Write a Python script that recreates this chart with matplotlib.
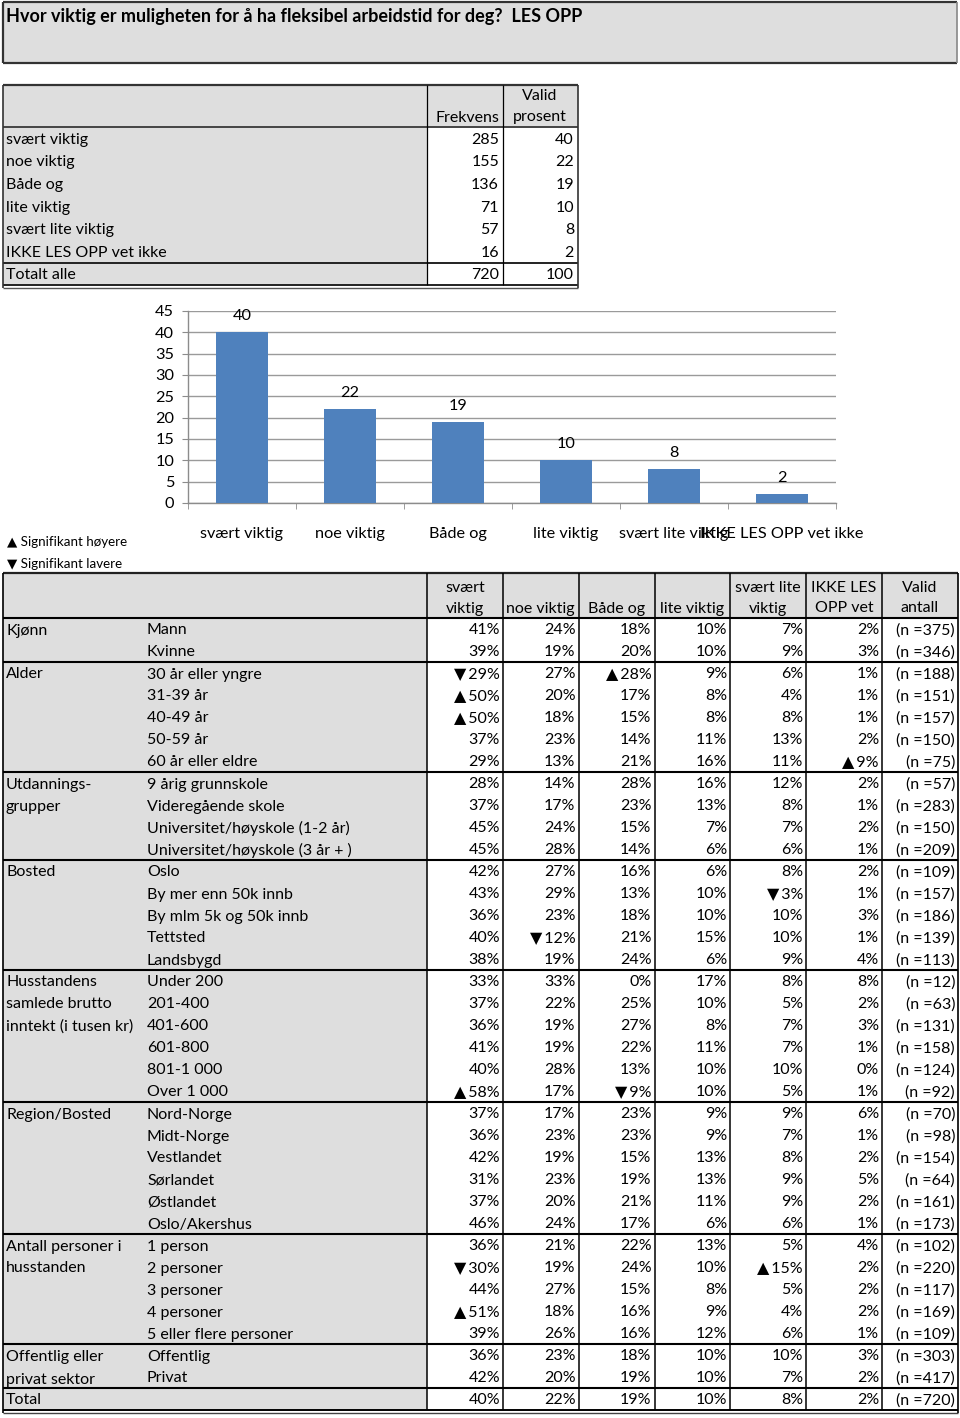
import matplotlib
matplotlib.use("Agg")
import matplotlib.pyplot as plt
from matplotlib.patches import Rectangle

plt.rcParams['font.family'] = ['Lato', 'DejaVu Sans']

# ---------------- data ----------------
title = "Hvor viktig er muligheten for å ha fleksibel arbeidstid for deg?  LES OPP"

freq_labels = ["svært viktig", "noe viktig", "Både og", "lite viktig",
               "svært lite viktig", "IKKE LES OPP vet ikke"]
freq_counts = [285, 155, 136, 71, 57, 16]
freq_pct = [40, 22, 19, 10, 8, 2]
freq_total_label = "Totalt alle"
freq_total = [720, 100]

bar_categories = freq_labels
bar_values = freq_pct
y_ticks = [0, 5, 10, 15, 20, 25, 30, 35, 40, 45]

col_headers = ["svært\nviktig", "noe viktig", "Både og", "lite viktig",
               "svært lite\nviktig", "IKKE LES\nOPP vet", "Valid\nantall"]

group_labels = [
    ["Kjønn"],
    ["Alder"],
    ["Utdannings-", "grupper"],
    ["Bosted"],
    ["Husstandens", "samlede brutto", "inntekt (i tusen kr)"],
    ["Region/Bosted"],
    ["Antall personer i", "husstanden"],
    ["Offentlig eller", "privat sektor"],
    ["Total"],
]
group_rows = [
    ["Mann", "Kvinne"],
    ["30 år eller yngre", "31-39 år", "40-49 år", "50-59 år", "60 år eller eldre"],
    ["9 årig grunnskole", "Videregående skole", "Universitet/høyskole (1-2 år)",
     "Universitet/høyskole (3 år + )"],
    ["Oslo", "By mer enn 50k innb", "By mlm 5k og 50k innb", "Tettsted", "Landsbygd"],
    ["Under 200", "201-400", "401-600", "601-800", "801-1 000", "Over 1 000"],
    ["Nord-Norge", "Midt-Norge", "Vestlandet", "Sørlandet", "Østlandet", "Oslo/Akershus"],
    ["1 person", "2 personer", "3 personer", "4 personer", "5 eller flere personer"],
    ["Offentlig", "Privat"],
    [""],
]
pct_values = [
    [41, 24, 18, 10, 7, 2], [39, 19, 20, 10, 9, 3],
    [29, 27, 28, 9, 6, 1], [50, 20, 17, 8, 4, 1], [50, 18, 15, 8, 8, 1],
    [37, 23, 14, 11, 13, 2], [29, 13, 21, 16, 11, 9],
    [28, 14, 28, 16, 12, 2], [37, 17, 23, 13, 8, 1], [45, 24, 15, 7, 7, 2],
    [45, 28, 14, 6, 6, 1],
    [42, 27, 16, 6, 8, 2], [43, 29, 13, 10, 3, 1], [36, 23, 18, 10, 10, 3],
    [40, 12, 21, 15, 10, 1], [38, 19, 24, 6, 9, 4],
    [33, 33, 0, 17, 8, 8], [37, 22, 25, 10, 5, 2], [36, 19, 27, 8, 7, 3],
    [41, 19, 22, 11, 7, 1], [40, 28, 13, 10, 10, 0], [58, 17, 9, 10, 5, 1],
    [37, 17, 23, 9, 9, 6], [36, 23, 23, 9, 7, 1], [42, 19, 15, 13, 8, 2],
    [31, 23, 19, 13, 9, 5], [37, 20, 21, 11, 9, 2], [46, 24, 17, 6, 6, 1],
    [36, 21, 22, 13, 5, 4], [30, 19, 24, 10, 15, 2], [44, 27, 15, 8, 5, 2],
    [51, 18, 16, 9, 4, 2], [39, 26, 16, 12, 6, 1],
    [36, 23, 18, 10, 10, 3], [42, 20, 19, 10, 7, 2],
    [40, 22, 19, 10, 8, 2],
]
n_values = [375, 346, 188, 151, 157, 150, 75, 57, 283, 150, 209, 109, 157, 186,
            139, 113, 12, 63, 131, 158, 124, 92, 70, 98, 154, 64, 161, 173, 102,
            220, 117, 169, 109, 303, 417, 720]
# significance markers: (row index, column index) -> symbol
sig_marks = {
    (2, 0): "▼", (2, 2): "▲", (3, 0): "▲", (4, 0): "▲", (6, 5): "▲",
    (12, 4): "▼", (14, 1): "▼", (21, 0): "▲", (21, 2): "▼",
    (29, 0): "▼", (29, 4): "▲", (31, 0): "▲",
}
legend_up = "▲ Signifikant høyere"
legend_down = "▼ Signifikant lavere"

# ---------------- layout ----------------
W, H = 960, 1418
GRAY = "#dedede"
FS = 11.5
DY = 1.5

fig = plt.figure(figsize=(W / 100, H / 100), dpi=100)
ax = fig.add_axes([0, 0, 1, 1])
ax.set_xlim(0, W)
ax.set_ylim(H, 0)
ax.axis("off")


def rect(x0, y0, x1, y1, fc, ec="none", lw=0):
    ax.add_patch(Rectangle((x0, y0), x1 - x0, y1 - y0, facecolor=fc,
                           edgecolor=ec, linewidth=lw, zorder=1))


def hline(y, x0, x1, lw=0.8, color="black"):
    ax.plot([x0, x1], [y, y], color=color, lw=lw, solid_capstyle="butt", zorder=3)


def vline(x, y0, y1, lw=0.8, color="black"):
    ax.plot([x, x], [y0, y1], color=color, lw=lw, solid_capstyle="butt", zorder=3)


def txt(x, y, s, ha="left", **kw):
    ax.text(x, y + DY, s, ha=ha, va="center", fontsize=kw.pop("fontsize", FS),
            color="black", zorder=4, **kw)


# title box
rect(3, 2, 957, 63, GRAY)
hline(2, 3, 957, lw=1.6, color="#333333")
hline(63, 3, 957, lw=1.6, color="#333333")
vline(3, 2, 63, lw=1.6, color="#333333")
vline(957, 2, 63, lw=1.2, color="#888888")
txt(6, 15, title, fontweight="bold", fontsize=13)

# frequency table
fy_top, fy_head = 85, 127
frow_h = 22.6
rect(3, fy_top, 578, fy_head, GRAY)
n_f = len(freq_labels)
y_total_top = fy_head + n_f * frow_h
y_total_bot = y_total_top + 22
rect(3, fy_head, 427, y_total_bot, GRAY)
rect(427, fy_head, 578, y_total_bot, "white")
txt(499, 116, "Frekvens", ha="right")
txt(540, 95, "Valid", ha="center")
txt(540, 116, "prosent", ha="center")
for i, (lab, c, p) in enumerate(zip(freq_labels, freq_counts, freq_pct)):
    yc = fy_head + frow_h * (i + 0.5)
    txt(6, yc, lab)
    txt(499, yc, str(c), ha="right")
    txt(574, yc, str(p), ha="right")
yc = (y_total_top + y_total_bot) / 2
txt(6, yc, freq_total_label)
txt(499, yc, str(freq_total[0]), ha="right")
txt(574, yc, str(freq_total[1]), ha="right")
hline(fy_top, 3, 578, lw=1.6, color="#333333")
hline(fy_head, 3, 578, lw=1.4, color="#444444")
hline(y_total_top, 3, 578, lw=1.4, color="#222222")
hline(y_total_bot, 3, 578, lw=1.4, color="#222222")
hline(y_total_bot + 3, 3, 578, lw=1.0, color="#555555")
vline(3, fy_top, y_total_bot + 3, lw=1.2, color="#333333")
vline(578, fy_top, y_total_bot + 3, lw=1.2, color="#333333")
vline(427, fy_top, y_total_bot, lw=0.9)
vline(503, fy_top, y_total_bot, lw=0.9)

# bar chart
px0, px1, py0, py1 = 188, 836, 311, 503
bax = fig.add_axes([px0 / W, 1 - py1 / H, (px1 - px0) / W, (py1 - py0) / H])
xs = list(range(len(bar_categories)))
bax.bar(xs, bar_values, width=0.49, color="#4f81bd", zorder=3)
bax.set_xlim(-0.5, len(bar_categories) - 0.5)
bax.set_ylim(0, 45)
bax.set_yticks(y_ticks)
bax.yaxis.grid(True, color="#9a9a9a", lw=1.0, zorder=0)
bax.set_axisbelow(True)
for s in ["top", "right"]:
    bax.spines[s].set_visible(False)
for s in ["left", "bottom"]:
    bax.spines[s].set_color("#8c8c8c")
    bax.spines[s].set_linewidth(1.0)
bax.set_xticks(xs)
bax.set_xticklabels(bar_categories, fontsize=FS + 0.2)
bax.set_xticks([x + 0.5 for x in [-1] + xs], minor=True)
bax.tick_params(axis="x", which="major", length=0, pad=17)
bax.tick_params(axis="x", which="minor", length=4, color="#8c8c8c", direction="out")
bax.tick_params(axis="y", length=4, color="#8c8c8c", pad=6, labelsize=FS + 0.2)
for x, v in zip(xs, bar_values):
    bax.annotate(str(v), (x, v), xytext=(0, 16), textcoords="offset pixels",
                 ha="center", va="center", fontsize=FS + 0.2, zorder=4)

# legend
txt(7, 540, legend_up, fontsize=9.6)
txt(7, 562, legend_down, fontsize=9.6)

# cross table
cx = [427, 503, 578.5, 654.5, 730, 806, 882, 958]
ct_top, ct_head = 573, 618
rh = 22
n_rows = len(pct_values)
ct_bot = ct_head + rh * n_rows
rect(3, ct_top, 958, ct_head, GRAY)
rect(3, ct_head, 427, ct_bot, GRAY)
rect(427, ct_head, 958, ct_bot, "white")
for j, h in enumerate(col_headers):
    xc = (cx[j] + cx[j + 1]) / 2
    lines = h.split("\n")
    if len(lines) == 2:
        txt(xc, 586, lines[0], ha="center")
        txt(xc, 607, lines[1], ha="center")
    else:
        txt(xc, 607, lines[0], ha="center")

r = 0
for g, (glabs, subs) in enumerate(zip(group_labels, group_rows)):
    start = r
    for k, gl in enumerate(glabs):
        txt(6, ct_head + rh * (start + k + 0.5) + (1.5 if k > 0 and g == 7 else 0), gl)
    for sname in subs:
        yc = ct_head + rh * (r + 0.5)
        if sname:
            txt(147, yc, sname)
        for j in range(6):
            s = f"{pct_values[r][j]}%"
            m = sig_marks.get((r, j))
            if m:
                s = m + "\u2009" + s
            txt(cx[j + 1] - 3, yc, s, ha="right")
        txt(cx[7] - 3, yc, f"(n ={n_values[r]})", ha="right")
        r += 1
    if r < n_rows:
        hline(ct_head + rh * r, 3, 958, lw=1.5)

hline(ct_top, 3, 958, lw=1.6, color="#222222")
hline(ct_head, 3, 958, lw=1.5)
hline(ct_bot, 3, 958, lw=1.4)
hline(ct_bot + 3, 3, 958, lw=1.0, color="#444444")
vline(3, ct_top, ct_bot + 3, lw=1.2)
vline(958, ct_top, ct_bot + 3, lw=1.2)
for x in cx[:-1]:
    vline(x, ct_top, ct_bot, lw=1.1)

fig.savefig("out.png", dpi=100)
